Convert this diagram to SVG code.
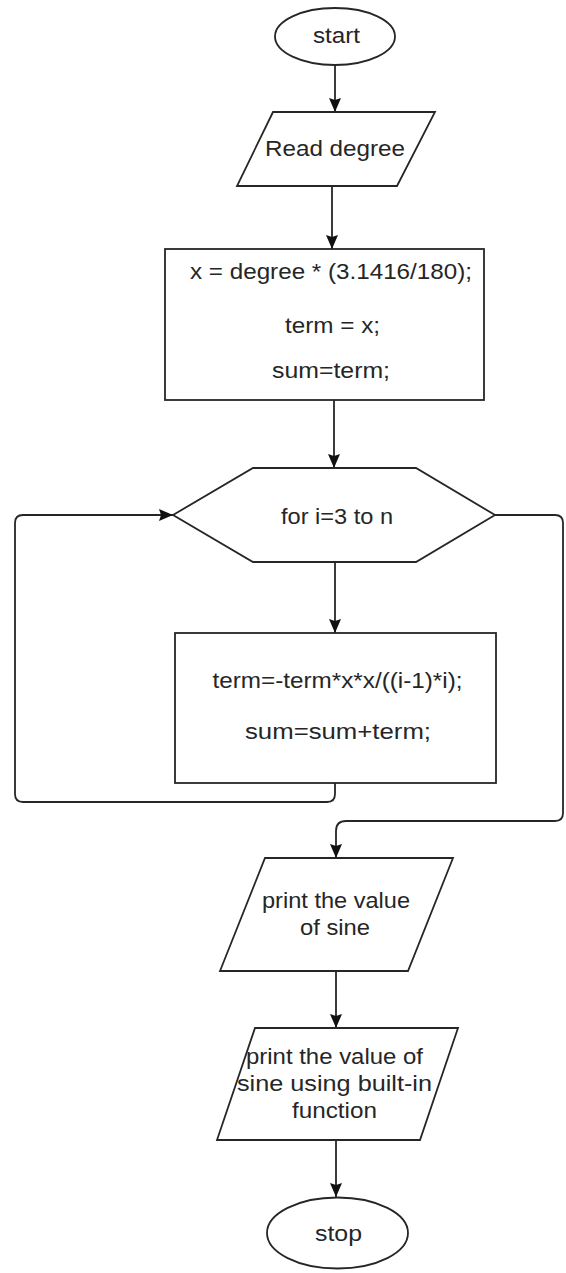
<svg xmlns="http://www.w3.org/2000/svg" width="566" height="1273" viewBox="0 0 566 1273">
  <defs>
    <marker id="arrow" viewBox="0 0 14 12" refX="14" refY="6" markerWidth="14" markerHeight="12" markerUnits="userSpaceOnUse" orient="auto">
      <path d="M0,0 L14,6 L0,12 L2,6 Z" fill="#111111"/>
    </marker>
    <style>
      .shape { fill: #ffffff; stroke: #262626; stroke-width: 1.8; }
      .edge { fill: none; stroke: #262626; stroke-width: 1.8; marker-end: url(#arrow); }
      .label { font-family: "Liberation Sans", Arial, sans-serif; font-size: 22px; fill: #262626; text-anchor: middle; }
    </style>
  </defs>
  <rect width="566" height="1273" fill="#ffffff"/>

  <!-- connectors -->
  <g id="connectors">
    <path class="edge" d="M335,65 L335,112"/>
    <path class="edge" d="M332,186 L332,249"/>
    <path class="edge" d="M334,400 L334,468"/>
    <path class="edge" d="M335,562 L335,633"/>
    <!-- loop back to the for test -->
    <path class="edge" d="M335,783 L335,794 Q335,802 327,802 L23,802 Q15,802 15,794 L15,523 Q15,515 23,515 L173,515"/>
    <!-- loop exit -->
    <path class="edge" d="M495,515 L555,515 Q563,515 563,523 L563,813 Q563,821 555,821 L346,821 Q336,821 336,831 L336,858"/>
    <path class="edge" d="M336,971 L336,1028"/>
    <path class="edge" d="M336,1140 L336,1197"/>
  </g>

  <g id="start">
    <ellipse class="shape" cx="335" cy="36.5" rx="60" ry="28.5"/>
    <text class="label" x="336.5" y="43" textLength="47" lengthAdjust="spacingAndGlyphs">start</text>
  </g>

  <g id="read-degree">
    <polygon class="shape" points="273,112 435,112 397,186 237,186"/>
    <text class="label" x="335" y="156" textLength="140" lengthAdjust="spacingAndGlyphs">Read degree</text>
  </g>

  <g id="init">
    <rect class="shape" x="165" y="249" width="319" height="151"/>
    <text class="label" x="331" y="279" textLength="282" lengthAdjust="spacingAndGlyphs">x = degree * (3.1416/180);</text>
    <text class="label" x="332.5" y="333" textLength="95" lengthAdjust="spacingAndGlyphs">term = x;</text>
    <text class="label" x="331" y="378" textLength="118" lengthAdjust="spacingAndGlyphs">sum=term;</text>
  </g>

  <g id="for-loop">
    <polygon class="shape" points="173,515 253,468 416,468 495,515 416,562 253,562"/>
    <text class="label" x="337" y="524" textLength="112" lengthAdjust="spacingAndGlyphs">for i=3 to n</text>
  </g>

  <g id="loop-body">
    <rect class="shape" x="175" y="633" width="321" height="150"/>
    <text class="label" x="337.5" y="688" textLength="250" lengthAdjust="spacingAndGlyphs">term=-term*x*x/((i-1)*i);</text>
    <text class="label" x="338" y="739" textLength="186" lengthAdjust="spacingAndGlyphs">sum=sum+term;</text>
  </g>

  <g id="print-sine">
    <polygon class="shape" points="265,858 453,858 408,971 220,971"/>
    <text class="label" x="336" y="908" textLength="148" lengthAdjust="spacingAndGlyphs">print the value</text>
    <text class="label" x="335" y="935" textLength="70" lengthAdjust="spacingAndGlyphs">of sine</text>
  </g>

  <g id="print-builtin">
    <polygon class="shape" points="255,1028 458,1028 420,1140 217,1140"/>
    <text class="label" x="334.5" y="1064" textLength="177" lengthAdjust="spacingAndGlyphs">print the value of</text>
    <text class="label" x="334.5" y="1091" textLength="195" lengthAdjust="spacingAndGlyphs">sine using built-in</text>
    <text class="label" x="334.5" y="1118" textLength="85" lengthAdjust="spacingAndGlyphs">function</text>
  </g>

  <g id="stop">
    <ellipse class="shape" cx="337.5" cy="1233" rx="70.5" ry="35.5"/>
    <text class="label" x="338.5" y="1241" textLength="47" lengthAdjust="spacingAndGlyphs">stop</text>
  </g>
</svg>
